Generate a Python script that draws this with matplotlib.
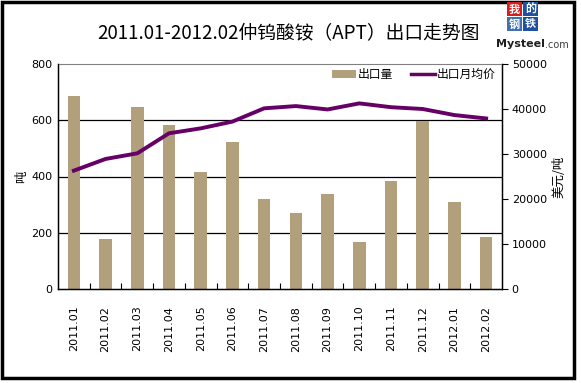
import matplotlib
matplotlib.use("Agg")
import matplotlib.pyplot as plt
from matplotlib.patches import Rectangle, Patch
from matplotlib.lines import Line2D
import numpy as np

plt.rcParams['font.family'] = ['Noto Sans CJK SC', 'DejaVu Sans']

months = ["2011.01", "2011.02", "2011.03", "2011.04", "2011.05", "2011.06", "2011.07",
          "2011.08", "2011.09", "2011.10", "2011.11", "2011.12", "2012.01", "2012.02"]
volume = [686, 178, 646, 583, 416, 521, 320, 270, 338, 167, 384, 597, 310, 185]
price = [26300, 28900, 30150, 34600, 35700, 37200, 40150, 40650, 39900, 41250, 40400, 40000, 38650, 37900]
left_ticks = [0, 200, 400, 600, 800]
right_ticks = [0, 10000, 20000, 30000, 40000, 50000]

W, H = 581, 383
fig = plt.figure(figsize=(W / 100, H / 100), dpi=100)

# outer frame
fig.patches.append(Rectangle((2 / W, 5 / H), 572 / W, 376 / H, transform=fig.transFigure,
                             fill=False, edgecolor='black', linewidth=2.5))

ax = fig.add_axes([58 / W, (H - 289) / H, 444 / W, 225 / H])
x = np.arange(len(months))
bar_color = '#b29f7b'
ax.bar(x, volume, width=0.4, color=bar_color, edgecolor='none', zorder=2)
ax.set_xlim(-0.5, len(months) - 0.5)
ax.set_ylim(0, 800)
ax.set_yticks(left_ticks)
ax.set_yticklabels([str(t) for t in left_ticks], fontsize=8, family='DejaVu Sans')
ax.tick_params(axis='y', length=0, pad=4)
for t in left_ticks[1:-1]:
    ax.axhline(t, color='black', linewidth=0.9, zorder=1)
ax.set_xticks(x)
ax.set_xticklabels(months, rotation=90, fontsize=8, family='DejaVu Sans')
ax.tick_params(axis='x', length=0, pad=12)
ax.set_xticks(x[:-1] + 0.5, minor=True)
ax.tick_params(axis='x', which='minor', direction='in', length=4, width=0.8)
ax.set_ylabel('吨', fontsize=9, labelpad=2)
for s in ['left', 'bottom', 'right']:
    ax.spines[s].set_color('black')
    ax.spines[s].set_linewidth(1.0)
ax.spines['top'].set_color('#808080')
ax.spines['top'].set_linewidth(0.8)

ax2 = ax.twinx()
ax2.plot(x, price, color='#660066', linewidth=2.8, zorder=3)
ax2.set_ylim(0, 50000)
ax2.set_yticks(right_ticks)
ax2.set_yticklabels([str(t) for t in right_ticks], fontsize=8, family='DejaVu Sans')
ax2.tick_params(axis='y', direction='out', length=4, width=0.8, pad=3)
ax2.set_ylabel('美元/吨', fontsize=9, labelpad=4)
ax2.spines['top'].set_visible(False)

handles = [Patch(facecolor=bar_color, edgecolor='none'),
           Line2D([0], [0], color='#660066', linewidth=2.5)]
leg = ax2.legend(handles, ['出口量', '出口月均价'], loc='upper right', ncol=2, frameon=False,
                 fontsize=8.5, bbox_to_anchor=(1.01, 1.03), handlelength=2.0,
                 handletextpad=0.2, columnspacing=1.5)

fig.text(288 / W, 1 - 33 / H, '2011.01-2012.02仲钨酸铵（APT）出口走势图', ha='center', va='center',
         fontsize=13.5)

# logo
def box(x0, y0, ch, col):
    fig.patches.append(Rectangle((x0 / W, 1 - (y0 + 14) / H), 15 / W, 14 / H,
                                 transform=fig.transFigure, facecolor=col, edgecolor='none'))
    fig.text((x0 + 7.5) / W, 1 - (y0 + 7) / H, ch, ha='center', va='center', color='white',
             fontsize=8, fontweight='bold')
box(507, 2, '我', '#d02020')
box(523, 2, '的', '#2050a0')
box(507, 17, '钢', '#4070b0')
box(523, 17, '铁', '#2050a0')
t1 = fig.text(496 / W, 1 - 44 / H, 'Mysteel', ha='left', va='center', fontsize=8,
              fontweight='bold', family='DejaVu Sans', color='#202020')
fig.canvas.draw()
bb = t1.get_window_extent()
fig.text(bb.x1 / W + 0.5 / W, 1 - 44.5 / H, '.com', ha='left', va='center', fontsize=7,
         family='DejaVu Sans', color='#404040')

fig.savefig('out.png', dpi=100)
